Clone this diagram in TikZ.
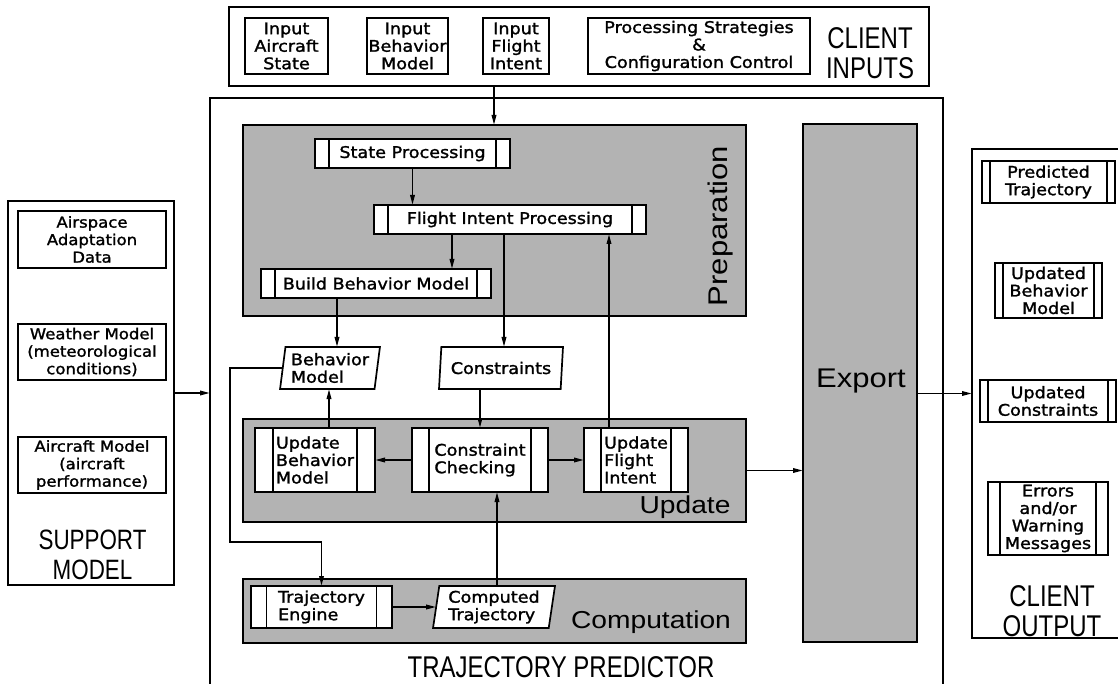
\documentclass[tikz,border=0pt]{standalone}
\usepackage{fontspec}
\usetikzlibrary{arrows.meta,shapes.geometric}
\newfontfamily\boxf[FakeStretch=1.1,FakeBold=1.5]{DejaVu Sans}
\newfontfamily\labn[FakeStretch=0.8]{Liberation Sans}
\newfontfamily\labw[FakeStretch=1.15]{Liberation Sans}
\definecolor{panelgray}{RGB}{179,179,179}
\tikzset{
  base/.style={draw=black, line width=1.7pt, inner sep=0pt, outer sep=0pt},
  plainbox/.style={base, fill=white, font=\boxf\fontsize{16}{17.5}\selectfont, align=center},
  supbox/.style={plainbox, font=\boxf\fontsize{15}{17.5}\selectfont},
  outerbox/.style={base, fill=white},
  panel/.style={base, fill=panelgray},
  procbox/.style={plainbox, path picture={
      \draw[line width=1.7pt] ([xshift=#1]path picture bounding box.north west) -- ([xshift=#1]path picture bounding box.south west)
                              ([xshift=-#1]path picture bounding box.north east) -- ([xshift=-#1]path picture bounding box.south east);}},
  databox/.style={base, fill=white, trapezium, trapezium left angle=81, trapezium right angle=99,
      trapezium stretches=true, font=\boxf\fontsize{16}{17.5}\selectfont, align=left},
  biglab/.style={font=\labn\fontsize{#1}{30}\selectfont, align=center, inner sep=0pt},
  midlab/.style={font=\labw\fontsize{#1}{30}\selectfont, inner sep=0pt},
  arr/.style={line width=1.7pt, -{Triangle[length=10pt,width=4.5pt]}},
}
\begin{document}
\begin{tikzpicture}[x=1pt,y=-1pt]
\useasboundingbox[fill=white] (0,0) rectangle (1118,684);

% ---------- client inputs ----------
\node[outerbox, minimum width=700, minimum height=79] (ci) at (579,46.5) {};
\node[plainbox, minimum width=83, minimum height=56] (ciA) at (286.5,46) {Input\\Aircraft\\State};
\node[plainbox, minimum width=81, minimum height=56] (ciB) at (407.5,46) {Input\\Behavior\\Model};
\node[plainbox, minimum width=66, minimum height=56] (ciC) at (516,46) {Input\\Flight\\Intent};
\node[plainbox, minimum width=222, minimum height=56] (ciD) at (699,46) {Processing Strategies\\\&\\Configuration Control};
\node[biglab=30] (ciL) at (870,53.5) {CLIENT\\INPUTS};

% ---------- trajectory predictor ----------
\node[outerbox, minimum width=733, minimum height=594] (tp) at (576.5,395) {};
\node[biglab=30] (tpL) at (561,667.5) {TRAJECTORY PREDICTOR};

% preparation
\node[panel, minimum width=503, minimum height=191] (prep) at (494.5,220.5) {};
\node[midlab=27, rotate=90] (prepL) at (721,226) {Preparation};
\node[procbox=14, minimum width=195, minimum height=29] (sp) at (412.5,153.5) {State Processing};
\node[procbox=14, minimum width=272, minimum height=29] (fip) at (510,219.5) {Flight Intent Processing};
\node[procbox=14, minimum width=230, minimum height=29] (bbm) at (376,283.5) {Build Behavior Model};

% data
\node[databox, minimum width=100, minimum height=42] (bm) at (330,368) {Behavior\\Model};
\node[databox, minimum width=124, minimum height=42] (cons) at (501,368) {Constraints};

% update
\node[panel, minimum width=503, minimum height=103] (upd) at (494.5,470.5) {};
\node[midlab=24.5] (updL) at (685,507) {Update};
\node[procbox=18, minimum width=120, minimum height=64, align=left] (ubm) at (315,460) {Update\\Behavior\\Model};
\node[procbox=17, minimum width=136, minimum height=64, align=left] (cc) at (480,460) {Constraint\\Checking};
\node[procbox=17, minimum width=104, minimum height=64, align=left] (ufi) at (636,460) {Update\\Flight\\Intent};

% computation
\node[panel, minimum width=503, minimum height=64] (comp) at (494.5,611) {};
\node[midlab=24.5] (compL) at (651,622.5) {Computation};
\node[procbox=15.5, minimum width=141, minimum height=42, align=left] (te) at (321.5,607) {Trajectory\\Engine};
\node[databox, minimum width=122, minimum height=42] (ct) at (494,607) {Computed\\Trajectory};

% export
\node[panel, minimum width=114, minimum height=518] (exp) at (860,383) {};
\node[midlab=27] (expL) at (861,381) {Export};

% ---------- support model ----------
\node[outerbox, minimum width=166, minimum height=384] (sup) at (91,393) {};
\node[supbox, minimum width=148, minimum height=57] (asd) at (92,239.5) {Airspace\\Adaptation\\Data};
\node[supbox, minimum width=148, minimum height=56] (wm) at (92,352) {Weather Model\\(meteorological\\conditions)};
\node[supbox, minimum width=148, minimum height=56] (am) at (92,465) {Aircraft Model\\(aircraft\\performance)};
\node[biglab=28] (supL) at (92.5,555) {SUPPORT\\MODEL};

% ---------- client output ----------
\node[outerbox, minimum width=148, minimum height=489] (co) at (1046,393.5) {};
\node[procbox=8, minimum width=133, minimum height=42] (pt) at (1048.5,182) {Predicted\\Trajectory};
\node[procbox=8, minimum width=107, minimum height=55] (ubmo) at (1048.5,290.5) {Updated\\Behavior\\Model};
\node[procbox=8, minimum width=136, minimum height=42] (uc) at (1048,401) {Updated\\Constraints};
\node[procbox=12, minimum width=120, minimum height=73] (err) at (1048,518.5) {Errors\\and/or\\Warning\\Messages};
\node[biglab=30] (coL) at (1052,611) {CLIENT\\OUTPUT};

% ---------- helper coordinates ----------
\coordinate (xci) at (494,0);
\coordinate (xfb) at (452,0);
\coordinate (xfc) at (504,0);
\coordinate (xuf) at (609,0);
\coordinate (xbb) at (337,0);
\coordinate (xub) at (329,0);
\coordinate (xct) at (497,0);
\coordinate (j1) at (230,542);

% ---------- connectors ----------
\draw[arr] (ci.south -| xci) -- (prep.north -| xci);
\draw[arr] (sp.south) -- (sp.south |- fip.north);
\draw[arr] (fip.south -| xfb) -- (bbm.north -| xfb);
\draw[arr] (fip.south -| xfc) -- (cons.north -| xfc);
\draw[arr] (ufi.north -| xuf) -- (fip.south -| xuf);
\draw[arr] (bbm.south -| xbb) -- (bm.north -| xbb);
\draw[arr] (ubm.north -| xub) -- (bm.south -| xub);
\draw[arr] (cons.south -| cc.north) -- (cc.north);
\draw[arr] (cc.west) -- (ubm.east);
\draw[arr] (cc.east) -- (ufi.west);
\draw[arr] (ct.north -| xct) -- (cc.south -| xct);
\draw[arr] (te.east) -- (te.east -| ct.west);
\draw[arr] (bm.west) -| (j1) -| (te.north);
\draw[arr] (upd.east) -- (upd.east -| exp.west);
\draw[arr] (co.west -| exp.east) -- (co.west);
\draw[arr] (sup.east) -- (sup.east -| tp.west);
\end{tikzpicture}
\end{document}
